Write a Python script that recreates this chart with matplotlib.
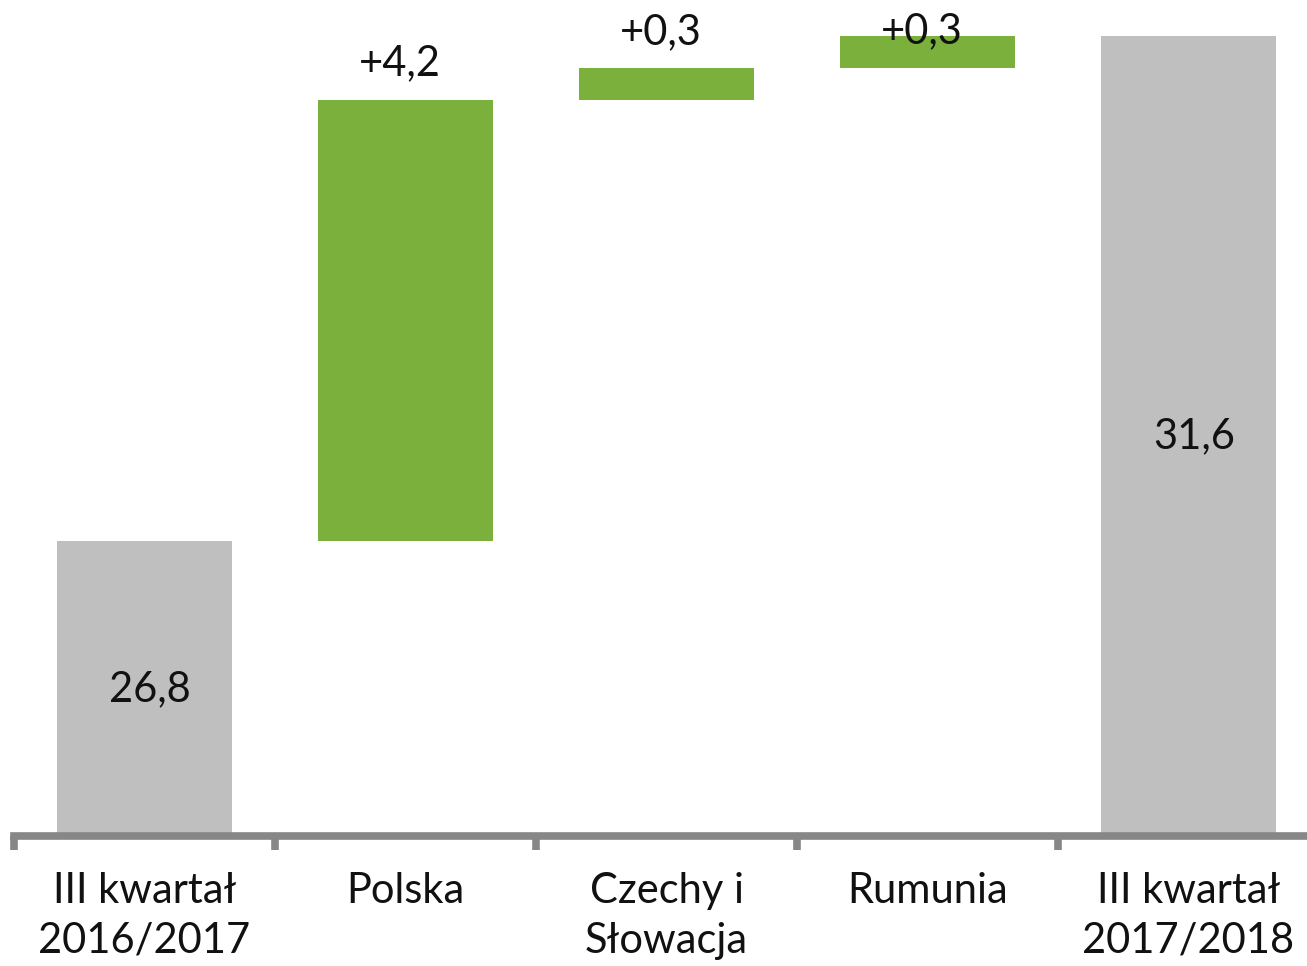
import matplotlib
matplotlib.use("Agg")
import matplotlib.pyplot as plt

categories = ["III kwartał\n2016/2017", "Polska", "Czechy i\nSłowacja", "Rumunia", "III kwartał\n2017/2018"]
start_value = 26.8
changes = [4.2, 0.3, 0.3]
end_value = 31.6
change_labels = ["+4,2", "+0,3", "+0,3"]
total_labels = ["26,8", "31,6"]

GRAY = "#BFBFBF"
GREEN = "#7CB03C"
AXIS = "#878787"
FONT = "Lato"

plt.rcParams['font.family'] = [FONT, 'DejaVu Sans']

W, H = 1307, 966
fig = plt.figure(figsize=(W / 100, H / 100), dpi=100)
ymin, ymax = 24.0, 32.0
ax_left = 14 / W
ax_width = 1305 / W
ax_bottom = (H - 836) / H
ax_height = 8 * 105.2 / H
ax = fig.add_axes([ax_left, ax_bottom, ax_width, ax_height])
ax.set_xlim(-0.5, 4.5)
ax.set_ylim(ymin, ymax)

bw = 0.67
ax.bar(0, start_value - ymin, bottom=ymin, width=bw, color=GRAY, zorder=2)
ax.text(0.02, (start_value + ymin) / 2, total_labels[0], ha="center", va="center", fontsize=30, color="#111111")

cum = start_value
for i, (c, lab) in enumerate(zip(changes, change_labels), start=1):
    ax.bar(i, c, bottom=cum, width=bw, color=GREEN, zorder=2)
    top = cum + c
    ly = min(top + 0.23, ymax - 0.46)
    ax.text(i - 0.02, ly, lab, ha="center", va="baseline", fontsize=30, color="#111111", zorder=3)
    cum = top

ax.bar(4, end_value - ymin, bottom=ymin, width=bw, color=GRAY, zorder=2)
ax.text(4.02, (end_value + ymin) / 2, total_labels[1], ha="center", va="center", fontsize=30, color="#111111")

for s in ["top", "right", "left"]:
    ax.spines[s].set_visible(False)
ax.spines["bottom"].set_color(AXIS)
ax.spines["bottom"].set_linewidth(5.5)
ax.spines["bottom"].set_zorder(3)
ax.set_yticks([])

ax.set_xticks([-0.5, 0.5, 1.5, 2.5, 3.5, 4.5])
ax.set_xticklabels([])
ax.tick_params(axis="x", which="major", length=10, width=5.5, color=AXIS, direction="out")
ax.set_xticks(range(5), minor=True)
ax.set_xticklabels(categories, minor=True, fontsize=30, color="#111111", linespacing=1.38)
ax.tick_params(axis="x", which="minor", length=0, pad=26)

fig.savefig("out.png", dpi=100, facecolor="white")
